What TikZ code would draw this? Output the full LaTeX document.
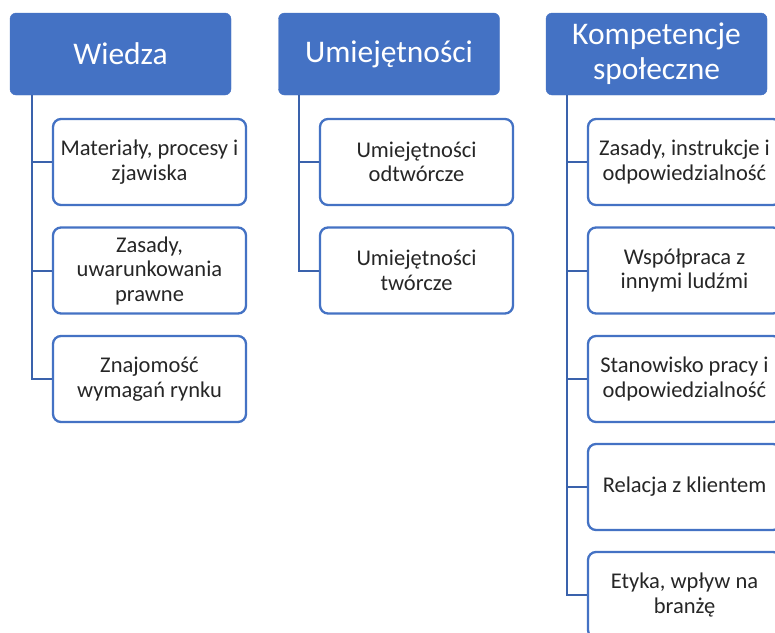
\documentclass[tikz,border=0pt]{standalone}
\usepackage{fontspec}
\setmainfont{Carlito}
\definecolor{hblue}{HTML}{4472C4}
\definecolor{lblue}{HTML}{3A62AC}
\definecolor{txt}{HTML}{262626}
\begin{document}
\begin{tikzpicture}[x=1pt,y=-1pt,
  head/.style={fill=hblue,draw=hblue,rounded corners=6pt,minimum width=221pt,minimum height=82pt,
    text=white,font=\fontsize{31.5}{35}\selectfont,align=center,inner sep=0pt},
  child/.style={draw=hblue,line width=2.3pt,fill=white,rounded corners=8pt,minimum width=193pt,minimum height=86pt,
    text=txt,font=\fontsize{22.5}{24.5}\selectfont,align=center,inner sep=0pt},
  conn/.style={draw=lblue,line width=2pt}]
\clip (0,0) rectangle (775,632);
\useasboundingbox (0,0) rectangle (775,632);
\fill[white] (0,0) rectangle (775,632);
% headers
\node[head] (h1) at (120.5,54) {Wiedza};
\node[head] (h2) at (389,54) {Umiejętności};
\node[head] (h3) at (656.5,54) {Kompetencje\\społeczne};
% spine coordinates
\coordinate (v1) at (32,95);
\coordinate (v2) at (299,95);
\coordinate (v3) at (567,95);
% children col 1
\node[child] (a1) at (149.5,162) {Materiały, procesy i\\zjawiska};
\node[child] (a2) at (149.5,270.5) {Zasady,\\uwarunkowania\\prawne};
\node[child] (a3) at (149.5,379) {Znajomość\\wymagań rynku};
% col 2
\node[child] (b1) at (416.5,162) {Umiejętności\\odtwórcze};
\node[child] (b2) at (416.5,270.5) {Umiejętności\\twórcze};
% col 3
\node[child] (c1) at (684.5,162) {Zasady, instrukcje i\\odpowiedzialność};
\node[child] (c2) at (684.5,270.5) {Współpraca z\\innymi ludźmi};
\node[child] (c3) at (684.5,379) {Stanowisko pracy i\\odpowiedzialność};
\node[child] (c4) at (684.5,487) {Relacja z klientem};
\node[child] (c5) at (684.5,595) {Etyka, wpływ na\\branżę};
% connectors
\draw[conn] (v1) |- (a3.west);
\draw[conn] (v1 |- a1.west) -- (a1.west);
\draw[conn] (v1 |- a2.west) -- (a2.west);
\draw[conn] (v2) |- (b2.west);
\draw[conn] (v2 |- b1.west) -- (b1.west);
\draw[conn] (v3) |- (c5.west);
\draw[conn] (v3 |- c1.west) -- (c1.west);
\draw[conn] (v3 |- c2.west) -- (c2.west);
\draw[conn] (v3 |- c3.west) -- (c3.west);
\draw[conn] (v3 |- c4.west) -- (c4.west);
\end{tikzpicture}
\end{document}
